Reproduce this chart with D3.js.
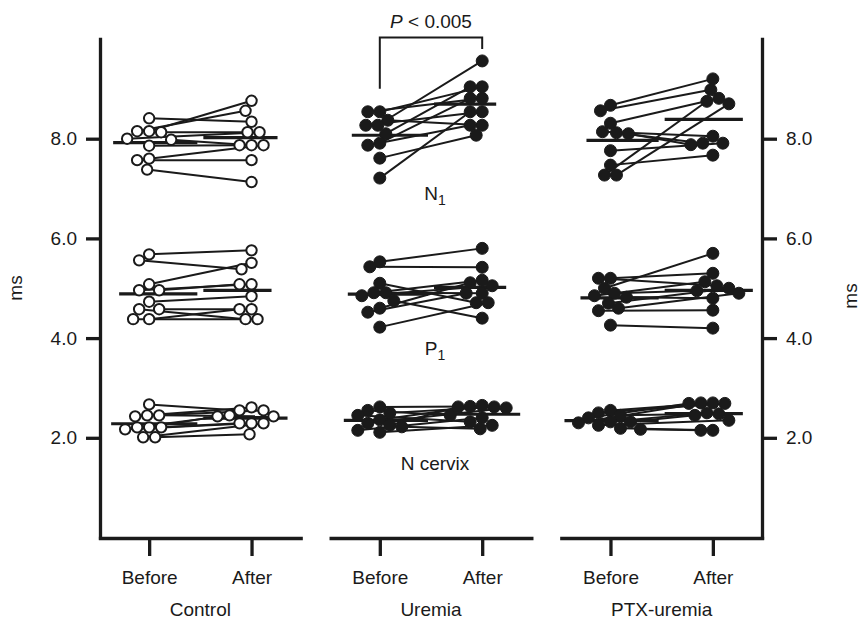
<!DOCTYPE html>
<html>
<head>
<meta charset="utf-8">
<script src="https://cdn.jsdelivr.net/npm/d3@7"></script>
<style>
  body { margin: 0; background: #fff; }
  text { font-family: "Liberation Sans", Arial, sans-serif; fill: #1a1a1a; }
</style>
</head>
<body>
<svg id="chart"></svg>
<script>
const panels = ['Control', 'Uremia', 'PTX-uremia'];
const times = ['Before', 'After'];
const yTicks = [2, 4, 6, 8];

// paired values, index i in Before matches index i in After
const controlN1Before = [8.41, 8.15, 8.15, 8.13, 8.00, 7.98, 7.86, 7.60, 7.57, 7.38];
const controlN1After  = [8.34, 8.76, 8.56, 8.13, 8.13, 7.87, 7.87, 7.87, 7.57, 7.13];
const controlP1Before = [5.68, 5.56, 5.08, 4.96, 4.96, 4.73, 4.58, 4.58, 4.38, 4.38];
const controlP1After  = [5.76, 5.38, 5.51, 5.08, 5.08, 4.84, 4.38, 4.58, 4.58, 4.38];
const controlNcBefore = [2.67, 2.45, 2.45, 2.43, 2.21, 2.21, 2.17, 2.21, 2.01, 2.01];
const controlNcAfter  = [2.55, 2.61, 2.43, 2.55, 2.43, 2.45, 2.29, 2.29, 2.29, 2.07];

const uremiaN1Before = [8.54, 8.54, 8.37, 8.27, 8.27, 8.10, 7.91, 7.87, 7.61, 7.21];
const uremiaN1After  = [9.04, 8.81, 8.27, 9.56, 8.54, 9.04, 8.81, 8.27, 8.07, 8.54];
const uremiaP1Before = [5.53, 5.43, 5.10, 4.91, 4.91, 4.85, 4.75, 4.60, 4.52, 4.22];
const uremiaP1After  = [5.80, 5.42, 4.71, 5.16, 4.90, 5.05, 4.40, 5.11, 4.90, 4.71];
const uremiaNcBefore = [2.62, 2.55, 2.50, 2.45, 2.36, 2.29, 2.25, 2.22, 2.15, 2.11];
const uremiaNcAfter  = [2.63, 2.45, 2.62, 2.32, 2.65, 2.60, 2.62, 2.18, 2.40, 2.25];

const ptxN1Before = [8.67, 8.56, 8.31, 8.14, 8.12, 8.10, 7.76, 7.47, 7.27, 7.27];
const ptxN1After  = [9.20, 8.98, 8.81, 8.05, 7.91, 7.88, 7.91, 7.67, 8.75, 8.70];
const ptxP1Before = [5.20, 5.20, 5.00, 4.90, 4.85, 4.82, 4.70, 4.60, 4.55, 4.26];
const ptxP1After  = [5.30, 5.05, 5.70, 4.95, 5.13, 4.80, 5.00, 4.90, 4.56, 4.20];
const ptxNcBefore = [2.55, 2.50, 2.45, 2.40, 2.32, 2.32, 2.30, 2.25, 2.19, 2.17];
const ptxNcAfter  = [2.70, 2.69, 2.48, 2.69, 2.50, 2.45, 2.70, 2.35, 2.15, 2.15];

const groups = [
    { panel: 'Control', before: controlN1Before, after: controlN1After },
    { panel: 'Control', before: controlP1Before, after: controlP1After },
    { panel: 'Control', before: controlNcBefore, after: controlNcAfter },
    { panel: 'Uremia', before: uremiaN1Before, after: uremiaN1After },
    { panel: 'Uremia', before: uremiaP1Before, after: uremiaP1After },
    { panel: 'Uremia', before: uremiaNcBefore, after: uremiaNcAfter },
    { panel: 'PTX-uremia', before: ptxN1Before, after: ptxN1After },
    { panel: 'PTX-uremia', before: ptxP1Before, after: ptxP1After },
    { panel: 'PTX-uremia', before: ptxNcBefore, after: ptxNcAfter },
];

const width = 861, height = 623;
const ink = '#1a1a1a';
const r = 6;
const fontSize = '19px';

const svg = d3.select('#chart').attr('width', width).attr('height', height);

const y = d3.scaleLinear().domain([0, 10]).range([537.5, 39]);
const xPanel = d3.scaleBand().domain(panels).range([100, 762]).paddingInner(0.13);
const xTime = d3.scalePoint().domain(times).range([0, xPanel.bandwidth()]).padding(0.48);

// simple beeswarm so overlapping points spread sideways
const swarm = (values, cx) => {
    const placed = [];
    const xs = new Array(values.length);
    const order = d3.range(values.length).sort((a, b) => values[b] - values[a]);
    for (const i of order) {
        const yy = y(values[i]);
        let xx = cx;
        for (let k = 0; k < 60; k++) {
            const off = (k % 2 ? -1 : 1) * Math.ceil(k / 2) * 2;
            if (placed.every(p => Math.hypot(p[0] - (cx + off), p[1] - yy) >= 2 * r - 1)) { xx = cx + off; break; }
        }
        xs[i] = xx;
        placed.push([xx, yy]);
    }
    return xs;
};

// axes
const styleAxis = g => {
    g.select('.domain').attr('stroke', ink).attr('stroke-width', 3.3).attr('stroke-linecap', 'square');
    g.selectAll('.tick line').attr('stroke', ink).attr('stroke-width', 3.3);
    g.selectAll('.tick text').attr('fill', ink).style('font-size', fontSize)
        .style('font-family', '"Liberation Sans", Arial, sans-serif');
};

svg.append('g')
    .attr('transform', 'translate(100,0)')
    .call(d3.axisLeft(y).tickValues(yTicks).tickFormat(d3.format('.1f')).tickSize(14).tickSizeOuter(0).tickPadding(9))
    .call(styleAxis);

svg.append('g')
    .attr('transform', 'translate(762,0)')
    .call(d3.axisRight(y).tickValues(yTicks).tickFormat(d3.format('.1f')).tickSize(15).tickSizeOuter(0).tickPadding(9))
    .call(styleAxis);

panels.forEach(p => {
    svg.append('g')
        .attr('transform', `translate(${ xPanel(p) },538)`)
        .call(d3.axisBottom(xTime).tickSize(18).tickSizeOuter(0).tickPadding(15))
        .call(styleAxis);
    svg.append('text')
        .attr('x', xPanel(p) + xPanel.bandwidth() / 2)
        .attr('y', 616)
        .attr('text-anchor', 'middle')
        .style('font-size', fontSize)
        .text(p);
});

svg.append('text').attr('transform', 'translate(22,288) rotate(-90)')
    .attr('text-anchor', 'middle').style('font-size', fontSize).text('ms');
svg.append('text').attr('transform', 'translate(857,296) rotate(-90)')
    .attr('text-anchor', 'middle').style('font-size', fontSize).text('ms');

// data
const plot = svg.append('g');
groups.forEach(g => {
    const bx = xPanel(g.panel) + xTime('Before');
    const ax = xPanel(g.panel) + xTime('After');
    const bxs = swarm(g.before, bx);
    const axs = swarm(g.after, ax);
    const mid = (bx + ax) / 2;
    const open = g.panel === 'Control';

    const pairs = g.before.map((v, i) => ({ x1: bxs[i], y1: y(v), x2: axs[i], y2: y(g.after[i]) }));
    plot.append('g').selectAll('line').data(pairs).join('line')
        .attr('x1', d => d.x1).attr('y1', d => d.y1)
        .attr('x2', d => d.x2).attr('y2', d => d.y2)
        .attr('stroke', ink).attr('stroke-width', 2);

    const means = [
        { x1: d3.min(bxs) - r - 8, x2: mid - 3, v: d3.mean(g.before) },
        { x1: mid + 3, x2: d3.max(axs) + r + 8, v: d3.mean(g.after) },
    ];
    plot.append('g').selectAll('line').data(means).join('line')
        .attr('x1', d => d.x1).attr('x2', d => d.x2)
        .attr('y1', d => y(d.v)).attr('y2', d => y(d.v))
        .attr('stroke', ink).attr('stroke-width', 3.2);

    const dots = g.before.map((v, i) => ({ x: bxs[i], v }))
        .concat(g.after.map((v, i) => ({ x: axs[i], v })));
    plot.append('g').selectAll('circle').data(dots).join('circle')
        .attr('cx', d => d.x).attr('cy', d => y(d.v)).attr('r', open ? r - 0.8 : r)
        .attr('fill', open ? '#fff' : ink)
        .attr('stroke', ink).attr('stroke-width', open ? 2 : 1);
});

// component labels in the middle panel
const labelX = xPanel('Uremia') + xPanel.bandwidth() / 2 + 4;
const compLabels = [
    { main: 'N', sub: '1', v: 6.77 },
    { main: 'P', sub: '1', v: 3.66 },
    { main: 'N cervix', sub: '', v: 1.35 },
];
compLabels.forEach(l => {
    const t = svg.append('text').attr('x', labelX).attr('y', y(l.v))
        .attr('text-anchor', 'middle').style('font-size', fontSize);
    t.append('tspan').text(l.main);
    if (l.sub) t.append('tspan').attr('dy', 5).style('font-size', '14px').text(l.sub);
});

// significance bracket
const ub = xPanel('Uremia') + xTime('Before');
const ua = xPanel('Uremia') + xTime('After');
svg.append('path')
    .attr('d', d3.line()([[ub, y(9.0)], [ub, y(10.03)], [ua, y(10.03)], [ua, y(9.8)]]))
    .attr('fill', 'none').attr('stroke', ink).attr('stroke-width', 2);
const pt = svg.append('text').attr('x', (ub + ua) / 2).attr('y', 28)
    .attr('text-anchor', 'middle').style('font-size', fontSize);
pt.append('tspan').style('font-style', 'italic').text('P');
pt.append('tspan').text(' < 0.005');
</script>
</body>
</html>
